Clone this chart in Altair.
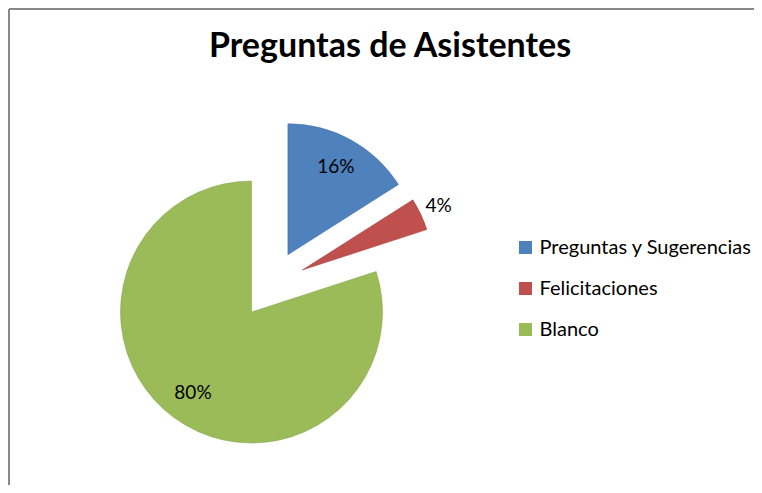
import altair as alt
import pandas as pd

CATEGORIES = ["Preguntas y Sugerencias", "Felicitaciones", "Blanco"]
VALUES = [16, 4, 80]
LABELS = ["16%", "4%", "80%"]
COLORS = ["#4F81BD", "#C0504D", "#9BBB59"]
EDGES = ["#3A6A9F", "#9E3B38", "#7F9C46"]
TITLE = "Preguntas de Asistentes"

W, H = 746, 477
CX, CY = 263.5, 276.5
R = 131
EXPLODE = 34
FONT = "Lato"

df = pd.DataFrame({"category": CATEGORIES, "value": VALUES, "label": LABELS})

base = (
    alt.Chart(df)
    .transform_window(idx="row_number()")
    .transform_window(cum="sum(value)", frame=[None, 0], sort=[alt.SortField("idx")])
    .transform_joinaggregate(total="sum(value)")
    .transform_calculate(
        t0="2*PI*(datum.cum - datum.value)/datum.total",
        t1="2*PI*datum.cum/datum.total",
    )
    .transform_calculate(mid="(datum.t0 + datum.t1)/2")
    .transform_calculate(
        cx=f"{CX} + {EXPLODE}*sin(datum.mid)",
        cy=f"{CY} - {EXPLODE}*cos(datum.mid)",
        lr=f"datum.value/datum.total < 0.1 ? {R*1.15} : {R*0.76}",
    )
    .transform_calculate(
        lx="datum.cx + datum.lr*sin(datum.mid)",
        ly="datum.cy - datum.lr*cos(datum.mid)",
    )
)

arcs = base.mark_arc(outerRadius=R, strokeWidth=0.8, strokeOpacity=0.6).encode(
    theta=alt.Theta("t0:Q", scale=None, stack=False),
    theta2="t1:Q",
    x=alt.X("cx:Q", scale=None, axis=None),
    y=alt.Y("cy:Q", scale=None, axis=None),
    color=alt.Color(
        "category:N",
        scale=alt.Scale(domain=CATEGORIES, range=COLORS),
        legend=alt.Legend(
            title=None,
            orient="none",
            legendX=507.5,
            legendY=229.5,
            symbolType="square",
            symbolSize=169,
            symbolStrokeWidth=0,
            labelFont=FONT,
            labelFontSize=20,
            labelColor="#000000",
            labelOffset=4,
            rowPadding=21,
            padding=0,
            labelLimit=400,
        ),
    ),
    stroke=alt.Color("category:N", scale=alt.Scale(domain=CATEGORIES, range=EDGES), legend=None),
)

labels = base.mark_text(font=FONT, fontSize=19, color="#000000", align="center", baseline="middle").encode(
    x=alt.X("lx:Q", scale=None, axis=None),
    y=alt.Y("ly:Q", scale=None, axis=None),
    text="label:N",
)

title = alt.Chart(pd.DataFrame({"t": [TITLE]})).mark_text(
    font=FONT, fontSize=34, fontWeight="bold", color="#000000", align="center", baseline="alphabetic"
).encode(x=alt.value(382), y=alt.value(49), text="t:N")

frame_top = alt.Chart(pd.DataFrame({"k": [0]})).mark_rule(color="#888888", strokeWidth=2).encode(
    x=alt.value(1), x2=alt.value(W), y=alt.value(1)
)
frame_left = alt.Chart(pd.DataFrame({"k": [0]})).mark_rule(color="#888888", strokeWidth=2).encode(
    x=alt.value(1), y=alt.value(1), y2=alt.value(H)
)

chart = (
    alt.layer(frame_top, frame_left, arcs, labels, title)
    .properties(width=W, height=H, autosize="none", padding=0)
    .configure_view(strokeWidth=0)
)

chart.save("out.html", embed_options={"renderer": "svg", "actions": False})
